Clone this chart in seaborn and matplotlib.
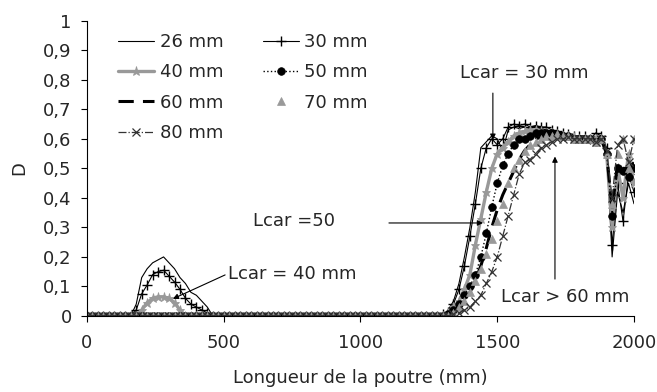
import numpy as np
import pandas as pd
import matplotlib
matplotlib.use('Agg')
import matplotlib.pyplot as plt
import seaborn as sns

# positions along the beam (mm)
x_grid = np.arange(0, 2001, 20)
bump_x = np.arange(160, 461, 20)     # 160 .. 460
rise_x = np.arange(1280, 2001, 20)   # 1280 .. 2000

# damage D, first bump (only the finest meshes)
bump_26 = [0, 0.04, 0.13, 0.16, 0.18, 0.19, 0.20, 0.18, 0.16, 0.13, 0.11, 0.08, 0.07, 0.05, 0.03, 0]
bump_30 = [0, 0.02, 0.075, 0.105, 0.14, 0.15, 0.155, 0.135, 0.115, 0.09, 0.06, 0.04, 0.03, 0.02, 0.01, 0]
bump_40 = [0, 0, 0.02, 0.045, 0.06, 0.065, 0.065, 0.06, 0.045, 0.02, 0, 0, 0, 0, 0, 0]

# damage D, main zone 1280 .. 2000 mm
rise_26 = [0, 0, 0.02, 0.05, 0.11, 0.20, 0.30, 0.42, 0.57, 0.59, 0.61, 0.60, 0.56, 0.63, 0.64, 0.635,
           0.64, 0.635, 0.64, 0.635, 0.63, 0.625, 0.62, 0.615, 0.61, 0.605, 0.61, 0.60, 0.61, 0.605,
           0.60, 0.56, 0.20, 0.42, 0.35, 0.45, 0.38]
rise_30 = [0, 0.005, 0.015, 0.04, 0.09, 0.17, 0.27, 0.38, 0.50, 0.57, 0.60, 0.58, 0.60, 0.64, 0.65, 0.645,
           0.65, 0.64, 0.645, 0.64, 0.64, 0.63, 0.625, 0.62, 0.615, 0.61, 0.61, 0.61, 0.60, 0.62,
           0.61, 0.57, 0.24, 0.45, 0.32, 0.48, 0.42]
rise_40 = [0, 0, 0.01, 0.03, 0.05, 0.09, 0.14, 0.24, 0.33, 0.42, 0.50, 0.55, 0.57, 0.59, 0.61, 0.62,
           0.625, 0.63, 0.63, 0.625, 0.62, 0.62, 0.615, 0.61, 0.61, 0.605, 0.60, 0.60, 0.60, 0.60,
           0.60, 0.55, 0.30, 0.50, 0.40, 0.55, 0.45]
rise_50 = [0, 0, 0.005, 0.02, 0.04, 0.07, 0.10, 0.14, 0.20, 0.28, 0.37, 0.45, 0.51, 0.55, 0.58, 0.60,
           0.60, 0.61, 0.62, 0.62, 0.62, 0.62, 0.615, 0.61, 0.61, 0.60, 0.60, 0.60, 0.60, 0.59,
           0.60, 0.55, 0.34, 0.50, 0.49, 0.47, 0.50]
rise_60 = [0, 0, 0, 0.01, 0.03, 0.05, 0.08, 0.12, 0.17, 0.23, 0.30, 0.36, 0.41, 0.45, 0.49, 0.53,
           0.56, 0.58, 0.60, 0.605, 0.61, 0.615, 0.615, 0.61, 0.61, 0.60, 0.60, 0.60, 0.60, 0.59,
           0.60, 0.55, 0.36, 0.52, 0.50, 0.50, 0.52]
rise_70 = [0, 0, 0, 0.01, 0.03, 0.05, 0.08, 0.12, 0.16, 0.21, 0.26, 0.32, 0.38, 0.45, 0.50, 0.53,
           0.56, 0.58, 0.59, 0.60, 0.61, 0.61, 0.615, 0.61, 0.61, 0.60, 0.60, 0.60, 0.60, 0.59,
           0.60, 0.55, 0.38, 0.55, 0.60, 0.50, 0.60]
rise_80 = [0, 0, 0, 0.005, 0.01, 0.02, 0.03, 0.05, 0.07, 0.11, 0.15, 0.20, 0.27, 0.34, 0.41, 0.48,
           0.52, 0.53, 0.55, 0.57, 0.58, 0.59, 0.60, 0.60, 0.605, 0.60, 0.60, 0.60, 0.60, 0.59,
           0.60, 0.56, 0.40, 0.58, 0.60, 0.52, 0.60]

labels = ['26 mm', '30 mm', '40 mm', '50 mm', '60 mm', '70 mm', '80 mm']
bumps = {'26 mm': bump_26, '30 mm': bump_30, '40 mm': bump_40}
rises = {'26 mm': rise_26, '30 mm': rise_30, '40 mm': rise_40, '50 mm': rise_50,
         '60 mm': rise_60, '70 mm': rise_70, '80 mm': rise_80}

y_ticks = [0, 0.1, 0.2, 0.3, 0.4, 0.5, 0.6, 0.7, 0.8, 0.9, 1]
y_ticklabels = ['0', '0,1', '0,2', '0,3', '0,4', '0,5', '0,6', '0,7', '0,8', '0,9', '1']
x_ticks = [0, 500, 1000, 1500, 2000]

# full series on the grid: zero outside the two damaged zones
frames = []
for lab in labels:
    s = pd.Series(0.0, index=x_grid)
    if lab in bumps:
        s.loc[bump_x] = bumps[lab]
    s.loc[rise_x] = rises[lab]
    frames.append(pd.DataFrame({'x': x_grid, 'D': s.values, 'mesh': lab}))
df = pd.concat(frames, ignore_index=True)

styles = {
    '26 mm': dict(color='black', lw=0.8, ls='-', marker=None),
    '30 mm': dict(color='black', lw=0.8, ls='-', marker='+', ms=7, mew=1.0),
    '40 mm': dict(color='#999999', lw=2.4, ls='-', marker='*', ms=6.5, mew=0.6),
    '50 mm': dict(color='black', lw=1.0, ls=':', marker='o', ms=5.5),
    '60 mm': dict(color='black', lw=2.2, ls=(0, (5, 3)), marker=None),
    '70 mm': dict(color='#999999', lw=0, ls='-', marker='^', ms=6),
    '80 mm': dict(color='#333333', lw=0.9, ls='-.', marker='x', ms=6, mew=0.9),
}

sns.set_style('ticks')
plt.rcParams['font.family'] = ['DejaVu Sans']
fs = 13

fig = plt.figure(figsize=(6.57, 3.92), dpi=100)
ax = fig.add_axes([0.1324, 0.194, 0.8326, 0.753])

for lab in labels:
    st = styles[lab]
    sub = df[df['mesh'] == lab]
    sns.lineplot(data=sub, x='x', y='D', ax=ax, label=lab, color=st['color'],
                 linewidth=st['lw'], linestyle=st['ls'], marker=st['marker'],
                 markersize=st.get('ms', 5), markeredgewidth=st.get('mew', 0.5),
                 markeredgecolor=st['color'], markerfacecolor=st['color'], estimator=None)

ax.set_xlim(0, 2000)
ax.set_ylim(0, 1)
ax.set_xticks(x_ticks)
ax.set_yticks(y_ticks)
ax.set_yticklabels(y_ticklabels)
ax.tick_params(axis='both', labelsize=fs, length=4, width=0.8, pad=7, color='black')
ax.tick_params(axis='x', pad=9)
ax.set_xlabel('Longueur de la poutre (mm)', fontsize=fs, labelpad=12)
ax.set_ylabel('D', fontsize=fs, labelpad=11)
sns.despine(ax=ax)
for sp in ['left', 'bottom']:
    ax.spines[sp].set_color('black')
    ax.spines[sp].set_linewidth(0.8)

handles, labs = ax.get_legend_handles_labels()
order = [0, 2, 4, 6, 1, 3, 5]
ax.legend([handles[i] for i in order], [labs[i] for i in order], ncol=2, frameon=False,
          fontsize=fs, loc='upper left', bbox_to_anchor=(118 / 657, 1 - 33 / 392),
          bbox_transform=fig.transFigure, borderpad=0, borderaxespad=0,
          handlelength=2.0, handletextpad=0.3, columnspacing=2.2, labelspacing=0.68)

arrow = dict(arrowstyle='-|>', color='black', lw=0.8, mutation_scale=8, shrinkA=0, shrinkB=0)
ax.annotate('', xy=(1484, 0.597), xytext=(1484, 0.755), arrowprops=arrow)
ax.text(1598, 0.824, 'Lcar = 30 mm', fontsize=fs, ha='center', va='center')
ax.annotate('', xy=(1448, 0.315), xytext=(1104, 0.315), arrowprops=arrow)
ax.text(757, 0.32, 'Lcar =50', fontsize=fs, ha='center', va='center')
ax.annotate('', xy=(314, 0.058), xytext=(505, 0.139), arrowprops=arrow)
ax.text(515, 0.142, 'Lcar = 40 mm', fontsize=fs, ha='left', va='center')
ax.annotate('', xy=(1711, 0.54), xytext=(1711, 0.125), arrowprops=arrow)
ax.text(1747, 0.064, 'Lcar > 60 mm', fontsize=fs, ha='center', va='center')

fig.savefig('out.png', dpi=100)
